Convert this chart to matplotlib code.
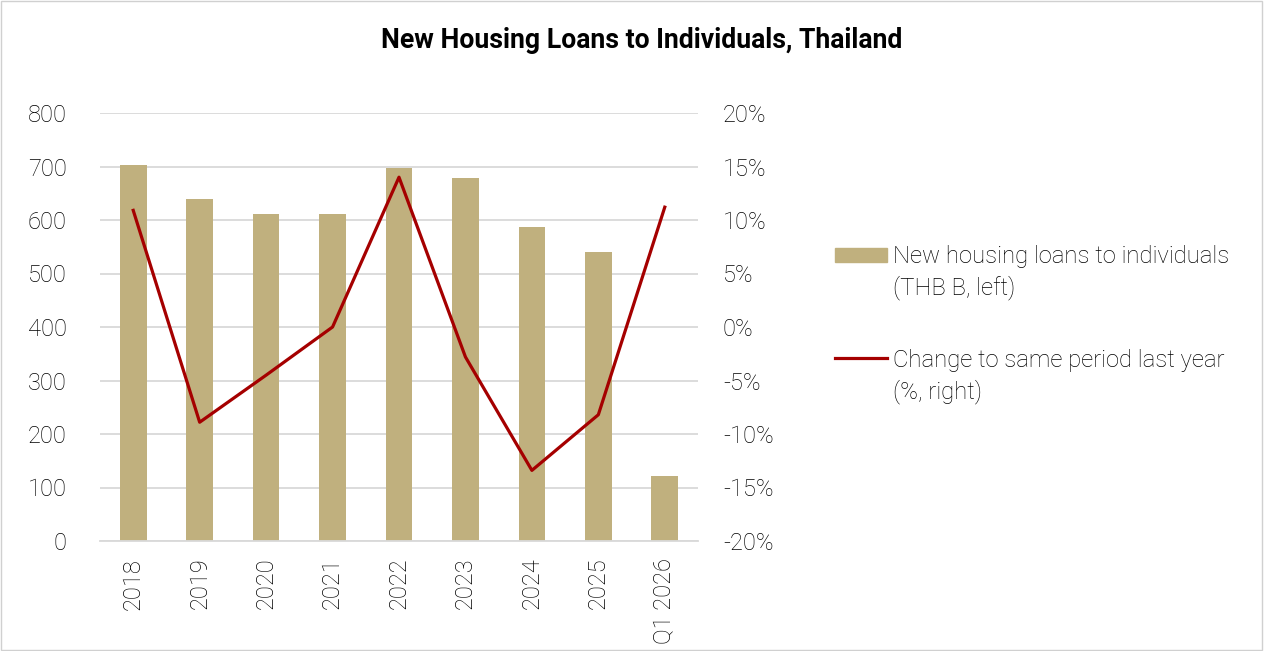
import matplotlib
matplotlib.use("Agg")
import matplotlib.pyplot as plt
import numpy as np
from matplotlib.ticker import FuncFormatter
from matplotlib.lines import Line2D

# values
labels = ['2018', '2019', '2020', '2021', '2022', '2023', '2024', '2025', 'Q1 2026']
loans = [703, 640, 612, 612, 698, 678, 586, 540, 121]
yoy = [10.9, -8.9, -4.5, 0.0, 14.0, -2.8, -13.4, -8.2, 11.2]
legend_lines = [['New housing loans to individuals', '(THB B, left)'],
                ['Change to same period last year', '(%, right)']]

bar_color = '#c0b07e'
line_color = '#a50000'
grid_color = '#d9d9d9'
text_color = '#000000'

plt.rcParams['font.family'] = ['Roboto', 'DejaVu Sans']

W, H = 1265, 651
fig = plt.figure(figsize=(W / 100, H / 100), dpi=100)
ax = fig.add_axes([100 / W, 1 - 541 / H, 598 / W, 428 / H])
ax2 = ax.twinx()

x = np.arange(len(labels))
ax.bar(x, loans, 0.4, color=bar_color, zorder=2)
ax2.plot(x, yoy, color=line_color, lw=2.3, zorder=3)

ax.set_xlim(-0.5, len(labels) - 0.5)
ax.set_ylim(0, 800)
ax.set_yticks(np.arange(0, 801, 100))
ax2.set_ylim(-20, 20)
ax2.set_yticks(np.arange(-20, 21, 5))
ax2.yaxis.set_major_formatter(FuncFormatter(lambda v, p: '{:.0f}%'.format(v)))

ax.set_xticks(x)
ax.set_xticklabels(labels, rotation=90)

ax.grid(axis='y', color=grid_color, lw=1.3, zorder=0)
ax.set_axisbelow(True)
for a in (ax, ax2):
    for s in a.spines.values():
        s.set_visible(False)
    a.tick_params(length=0, labelsize=17, labelcolor=text_color)
    for t in a.get_yticklabels() + a.get_xticklabels():
        t.set_fontweight('light')
ax.spines['bottom'].set_visible(True)
ax.spines['bottom'].set_color(grid_color)
ax.spines['bottom'].set_linewidth(1.3)
ax.tick_params(axis='y', pad=24)
ax.tick_params(axis='x', pad=12)
ax2.tick_params(axis='y', pad=18)

fig.text(642 / W, 1 - 40 / H, 'New Housing Loans to Individuals, Thailand',
         ha='center', va='center', fontsize=19.2, fontweight='bold', color='black')

# legend, laid out by hand so each handle sits on the first line of its label
fig.patches.append(plt.Rectangle((835 / W, 1 - 262 / H), 52 / W, 14 / H,
                                 transform=fig.transFigure, color=bar_color))
fig.lines.append(Line2D([835 / W, 887 / W], [1 - 358 / H, 1 - 358 / H],
                        transform=fig.transFigure, color=line_color, lw=2.3))
for (l1, l2), y1 in zip(legend_lines, [263, 367]):
    fig.text(893 / W, 1 - y1 / H, l1, ha='left', va='baseline', fontsize=17.2,
             fontweight='light', color=text_color)
    fig.text(893 / W, 1 - (y1 + 31) / H, l2, ha='left', va='baseline', fontsize=17.2,
             fontweight='light', color=text_color)

# thin frame around the whole picture
fig.patches.append(plt.Rectangle((0.001, 0.002), 0.997, 0.996, transform=fig.transFigure,
                                 fill=False, edgecolor='#d0d0d0', lw=1))

fig.savefig('out.png', dpi=100)
